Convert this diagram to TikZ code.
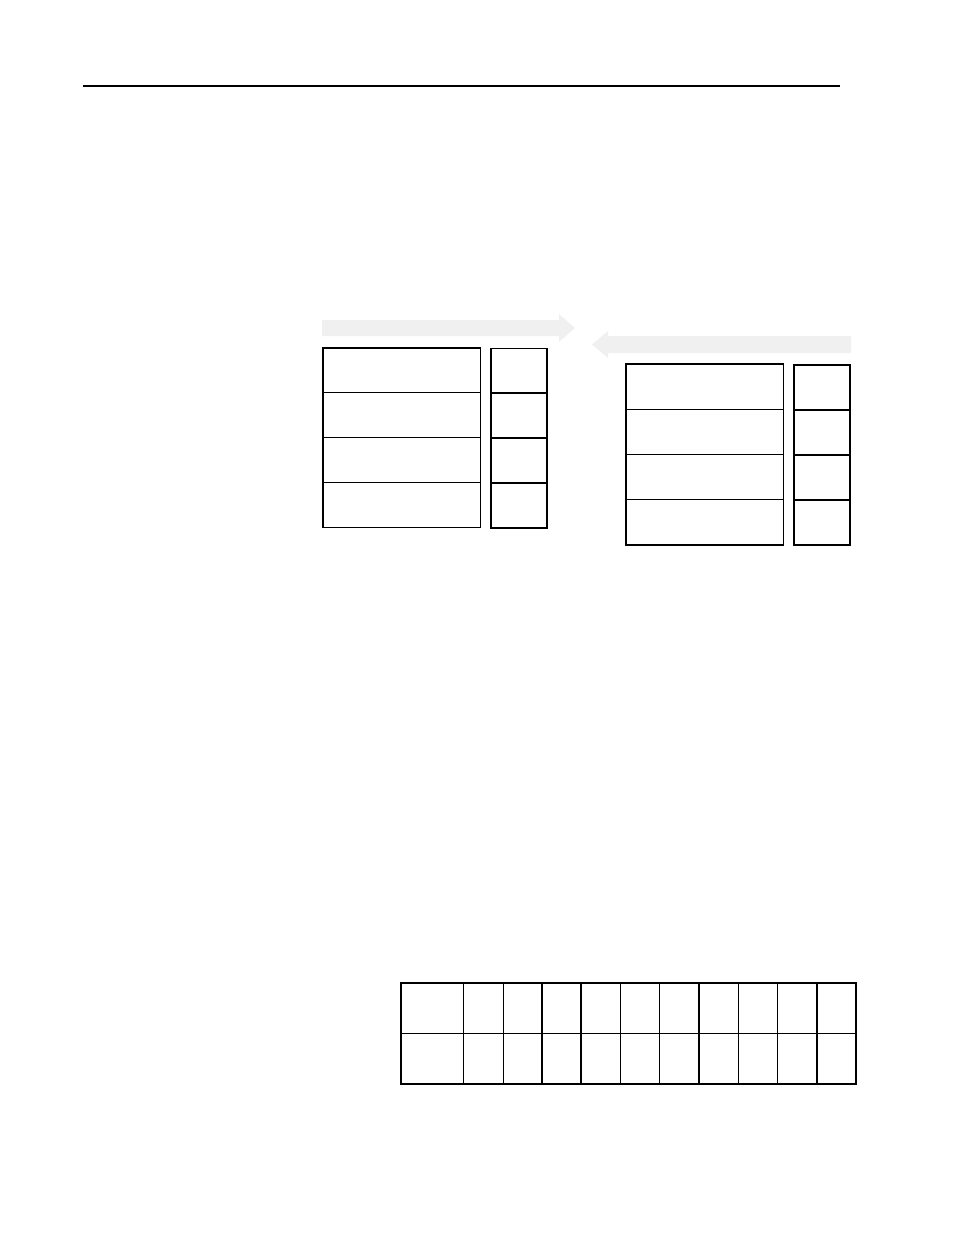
\documentclass[tikz,border=0pt]{standalone}
\begin{document}
\begin{tikzpicture}[x=0.75pt, y=-0.75pt, inner sep=0pt,
    row/.style={draw, line width=0.75pt, minimum width=117.75pt, minimum height=33.6pt},
    tag/.style={draw, line width=1.3pt, minimum width=42pt, minimum height=33.75pt},
    cell/.style={draw, line width=0.75pt, minimum height=37.5pt},
    flow/.style={fill=black!6}]
      \useasboundingbox (0,0) rectangle (954,1235);

      \draw[line width=0.8pt] (83,86) -- (840,86);

      % shift arrows
      \fill[flow] (322,320) -- (559,320) -- (559,314) -- (575,328) -- (559,342)
                  -- (559,336) -- (322,336) -- cycle;
      \fill[flow] (851,336) -- (608,336) -- (608,331) -- (592,344.5) -- (608,358)
                  -- (608,353) -- (851,353) -- cycle;

      % left stack
      \node[row] (l1) at (401.5,370.4) {};
      \node[row] (l2) at (401.5,415.1) {};
      \node[row] (l3) at (401.5,459.9) {};
      \node[row] (l4) at (401.5,504.6) {};
      \draw[line width=1pt] (l1.north west) rectangle (l4.south east);

      \node[tag] (lt1) at (519,371) {};
      \node[tag] (lt2) at (519,415.75) {};
      \node[tag] (lt3) at (519,460.5) {};
      \node[tag] (lt4) at (519,505.25) {};

      % right stack
      \node[row] (r1) at (704.5,387) {};
      \node[row] (r2) at (704.5,432) {};
      \node[row] (r3) at (704.5,477) {};
      \node[row] (r4) at (704.5,522) {};
      \draw[line width=1pt] (r1.north west) rectangle (r4.south east);

      \node[tag] (rt1) at (822,387.5) {};
      \node[tag] (rt2) at (822,432.5) {};
      \node[tag] (rt3) at (822,477.5) {};
      \node[tag] (rt4) at (822,522.5) {};

      % table
      \foreach \a/\b [count=\i] in {401/463, 463/503, 503/542, 542/581, 581/620,
          620/659, 659/699, 699/738, 738/777, 777/817, 817/855} {
        \node[cell, minimum width={(\b-\a)*0.75pt}] (t1-\i) at ({(\a+\b)/2},1008) {};
        \node[cell, minimum width={(\b-\a)*0.75pt}] (t2-\i) at ({(\a+\b)/2},1058) {};
      }
      \foreach \i in {4,5,8,11}
        \draw[line width=1.3pt] (t1-\i.north west) -- (t2-\i.south west);
      \draw[line width=1.5pt] (t1-1.north west) rectangle (t2-11.south east);
    \end{tikzpicture}
\end{document}
